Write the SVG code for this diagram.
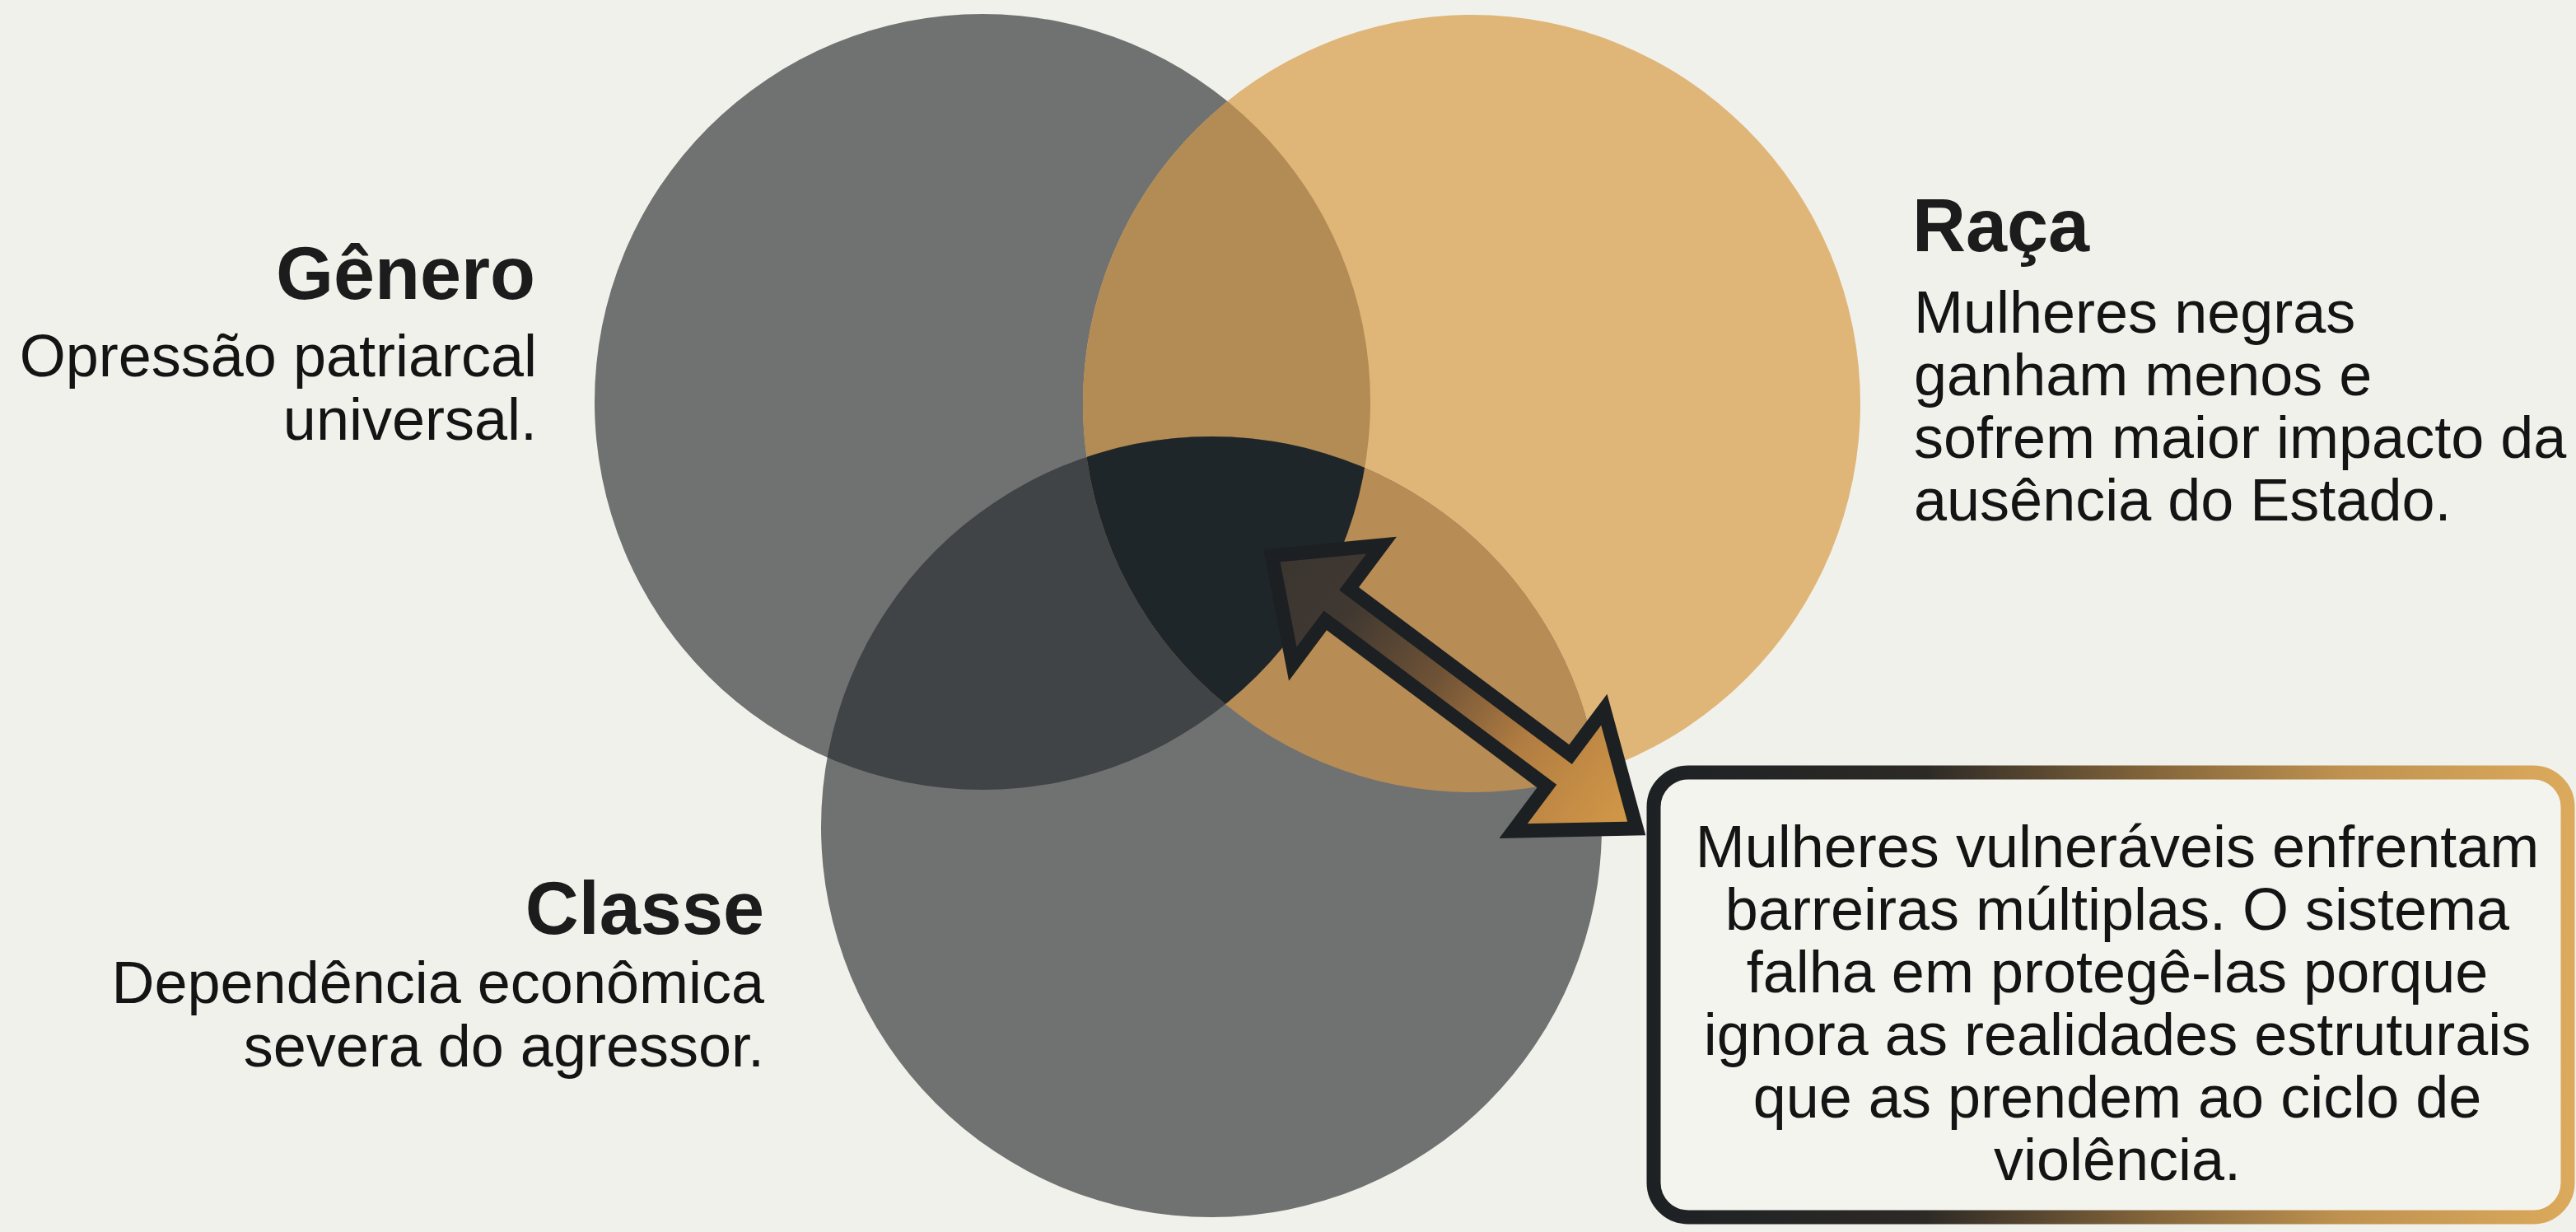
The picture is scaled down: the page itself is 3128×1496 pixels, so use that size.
<svg xmlns="http://www.w3.org/2000/svg" width="3128" height="1496" viewBox="0 0 3128 1496">
  <style>
    .title { font-family: "Liberation Sans", Arial, sans-serif; font-weight: 700; font-size: 90px; fill: #1c1c1c; }
    .body { font-family: "Liberation Sans", Arial, sans-serif; font-size: 72px; fill: #141414; }
    .gray { fill: #707271; }
    .orange { fill: #dfb678; }
  </style>
  <defs>
    <clipPath id="clipG"><circle cx="1193" cy="488" r="471"/></clipPath>
    <clipPath id="clipR"><circle cx="1787" cy="490" r="472"/></clipPath>
    <linearGradient id="arrowFill" gradientUnits="userSpaceOnUse" x1="0" y1="0" x2="580" y2="0">
      <stop offset="0" stop-color="#3a3531"/>
      <stop offset="0.22" stop-color="#403831"/>
      <stop offset="0.45" stop-color="#6e5236"/>
      <stop offset="0.68" stop-color="#b27d42"/>
      <stop offset="1" stop-color="#d89d48"/>
    </linearGradient>
    <linearGradient id="boxBorder" gradientUnits="userSpaceOnUse" x1="2000" y1="0" x2="3128" y2="0">
      <stop offset="0" stop-color="#1d2124"/>
      <stop offset="0.3" stop-color="#2d2a26"/>
      <stop offset="0.55" stop-color="#86673b"/>
      <stop offset="0.75" stop-color="#bf9250"/>
      <stop offset="1" stop-color="#dcaa5c"/>
    </linearGradient>
  </defs>

  <rect x="0" y="0" width="3128" height="1496" fill="#f1f1ec"/>

  <g id="node-genero">
    <circle class="gray" cx="1193" cy="488" r="471"/>
    <text class="title" x="650" y="363" text-anchor="end">Gênero</text>
    <text class="body" text-anchor="end"><tspan x="652" y="457">Opressão patriarcal</tspan><tspan x="652" y="534">universal.</tspan></text>
  </g>

  <g id="node-raca">
    <circle class="orange" cx="1787" cy="490" r="472"/>
    <text class="title" x="2322" y="305">Raça</text>
    <text class="body"><tspan x="2324" y="404">Mulheres negras</tspan><tspan x="2324" y="480">ganham menos e</tspan><tspan x="2324" y="556">sofrem maior impacto da</tspan><tspan x="2324" y="632">ausência do Estado.</tspan></text>
  </g>

  <g id="node-classe">
    <circle class="gray" cx="1471" cy="1004" r="474"/>
    <text class="title" x="928" y="1134" text-anchor="end">Classe</text>
    <text class="body" text-anchor="end"><tspan x="928" y="1218">Dependência econômica</tspan><tspan x="928" y="1295">severa do agressor.</tspan></text>
  </g>

  <g id="overlaps">
    <circle cx="1787" cy="490" r="472" fill="#b38b54" clip-path="url(#clipG)"/>
    <circle cx="1471" cy="1004" r="474" fill="#404446" clip-path="url(#clipG)"/>
    <circle cx="1471" cy="1004" r="474" fill="#b88c55" clip-path="url(#clipR)"/>
    <g clip-path="url(#clipR)">
      <circle cx="1471" cy="1004" r="474" fill="#1f2629" clip-path="url(#clipG)"/>
    </g>
  </g>

  <g id="connectors">
    <path transform="translate(1534 667) rotate(36.8)" d="M 13 0 L 112 -90 L 112 -24 L 448 -24 L 448 -92 L 566 0 L 448 92 L 448 24 L 112 24 L 112 90 Z" fill="url(#arrowFill)" stroke="#1c2023" stroke-width="17" stroke-linejoin="miter" stroke-miterlimit="10"/>
  </g>

  <g id="node-summary">
    <rect x="2008" y="938" width="1110" height="540" rx="42" ry="42" fill="#f4f4ef" stroke="url(#boxBorder)" stroke-width="17"/>
    <text class="body" text-anchor="middle"><tspan x="2571" y="1053">Mulheres vulneráveis enfrentam</tspan><tspan x="2571" y="1129">barreiras múltiplas. O sistema</tspan><tspan x="2571" y="1205">falha em protegê-las porque</tspan><tspan x="2571" y="1281">ignora as realidades estruturais</tspan><tspan x="2571" y="1357">que as prendem ao ciclo de</tspan><tspan x="2571" y="1433">violência.</tspan></text>
  </g>
</svg>
